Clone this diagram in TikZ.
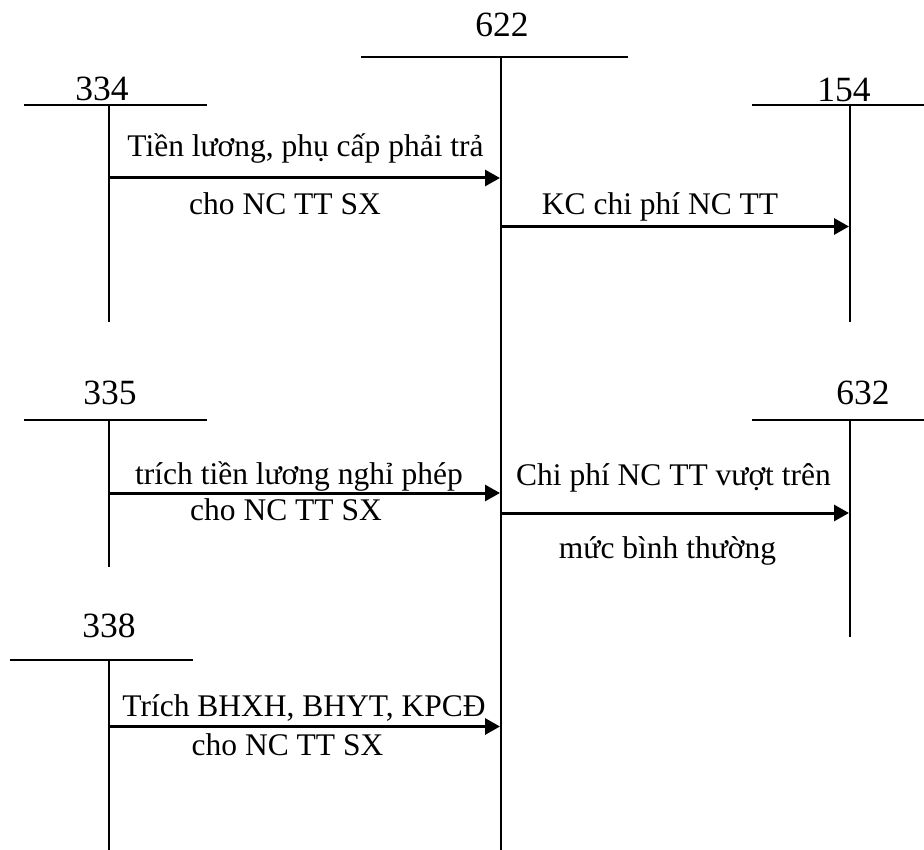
\documentclass[tikz,border=0pt]{standalone}
\usepackage{fontspec}
\setmainfont{Liberation Serif}
\usetikzlibrary{arrows.meta}
\tikzset{
  tline/.style={line width=2pt},
  flow/.style={line width=3pt,-{Triangle[length=15pt,width=16pt]}},
  acct/.style={anchor=base,inner sep=0pt,font=\fontsize{35.5}{40}\selectfont},
  lbl/.style={anchor=base,inner sep=0pt,font=\fontsize{31.5}{36}\selectfont}
}
\begin{document}
\begin{tikzpicture}[x=1pt,y=-1pt]
\useasboundingbox (0,0) rectangle (924,850);
% account 622
\node[acct] (n622) at (502,37) {622};
\draw[tline] (361,57) -- (628,57);
\draw[tline] (501,57) coordinate (t622) -- (501,850) coordinate (e622);
% account 334
\node[acct] (n334) at (102,101) {334};
\draw[tline] (24,105) -- (207,105);
\draw[tline] (109,105) -- (109,322);
% account 154
\node[acct] (n154) at (844,102) {154};
\draw[tline] (752,105) -- (924,105);
\draw[tline] (850,105) -- (850,322);
% account 335
\node[acct] (n335) at (110,404) {335};
\draw[tline] (24,420) -- (207,420);
\draw[tline] (109,420) -- (109,567);
% account 632
\node[acct] (n632) at (863,404) {632};
\draw[tline] (752,420) -- (924,420);
\draw[tline] (850,420) -- (850,637);
% account 338
\node[acct] (n338) at (109,637) {338};
\draw[tline] (10,660) -- (193,660);
\draw[tline] (109,660) -- (109,850);
% arrow points
\coordinate (a1s) at (109,178);  \coordinate (a1e) at (500,178);
\coordinate (a2s) at (501,226.5);\coordinate (a2e) at (849,226.5);
\coordinate (a3s) at (109,493);  \coordinate (a3e) at (500,493);
\coordinate (a4s) at (501,513);  \coordinate (a4e) at (849,513);
\coordinate (a5s) at (109,726.5);\coordinate (a5e) at (500,726.5);
\draw[flow] (a1s) -- (a1e);
\draw[flow] (a2s) -- (a2e);
\draw[flow] (a3s) -- (a3e);
\draw[flow] (a4s) -- (a4e);
\draw[flow] (a5s) -- (a5e);
% texts
\node[lbl] (t1) at (305.5,157) {Tiền lương, phụ cấp phải trả};
\node[lbl] (t1b) at (285,215) {cho NC TT SX};
\node[lbl] (t2) at (660,215) {KC chi phí NC TT};
\node[lbl] (t3) at (299,484) {trích tiền lương nghỉ phép};
\node[lbl] (t3b) at (286,520.5) {cho NC TT SX};
\node[lbl] (t4) at (673.5,485) {Chi phí NC TT vượt trên};
\node[lbl] (t4b) at (667.5,558) {mức bình thường};
\node[lbl] (t5) at (304,716) {Trích BHXH, BHYT, KPCĐ};
\node[lbl] (t5b) at (287.5,755) {cho NC TT SX};
\end{tikzpicture}
\end{document}
